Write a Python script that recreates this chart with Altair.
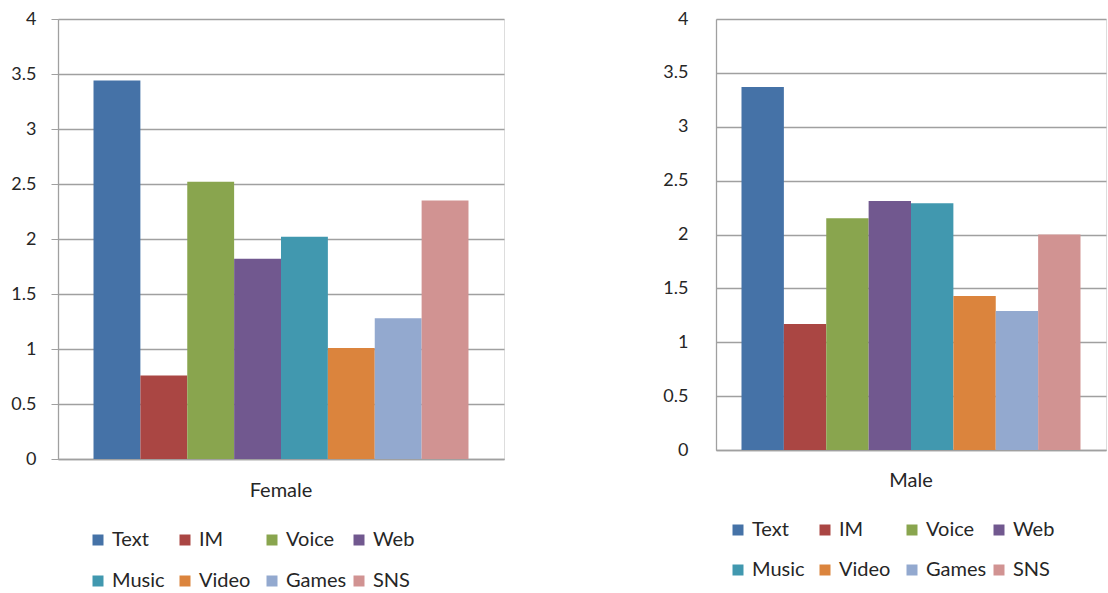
import altair as alt
import pandas as pd

categories = ["Text", "IM", "Voice", "Web", "Music", "Video", "Games", "SNS"]
female_values = [3.44, 0.76, 2.52, 1.82, 2.02, 1.01, 1.28, 2.35]
male_values = [3.37, 1.17, 2.15, 2.31, 2.29, 1.43, 1.29, 2.00]
colors = ["#4572A7", "#AA4643", "#89A54E", "#71588F", "#4198AF", "#DB843D", "#93A9CF", "#D19392"]
y_ticks = [0, 0.5, 1, 1.5, 2, 2.5, 3, 3.5, 4]

FONT = "Lato"
TEXT = "#262626"
GRID = "#a0a0a0"


def panel(label, values, plot_w, plot_h, show_ticks, label_pad, extent, lx, ly,
          outer, x_label_pad, row_pad):
    df = pd.DataFrame({"group": [label] * len(categories),
                       "activity": categories,
                       "value": values})
    return alt.Chart(df).mark_bar().encode(
        x=alt.X("group:N", title=None,
                scale=alt.Scale(paddingInner=0, paddingOuter=outer),
                axis=alt.Axis(labelAngle=0, ticks=False, labelFontSize=20, labelFont=FONT,
                              labelPadding=x_label_pad, labelColor=TEXT, domainColor=GRID,
                              domainWidth=1.5)),
        xOffset=alt.XOffset("activity:N", sort=categories,
                            scale=alt.Scale(paddingInner=0, paddingOuter=0)),
        y=alt.Y("value:Q", title=None,
                scale=alt.Scale(domain=[0, 4], nice=False),
                axis=alt.Axis(values=y_ticks, format="~g", labelFontSize=18, labelFont=FONT,
                              labelColor=TEXT, grid=True, gridColor=GRID, gridWidth=1.3,
                              domainColor=GRID, domainWidth=1.3, ticks=show_ticks,
                              tickSize=7, tickColor=GRID, labelPadding=label_pad,
                              minExtent=extent, maxExtent=extent)),
        color=alt.Color("activity:N", sort=categories,
                        scale=alt.Scale(domain=categories, range=colors),
                        legend=alt.Legend(title=None, orient="none", legendX=lx, legendY=ly,
                                          direction="horizontal", columns=4, gridAlign="all",
                                          symbolType="square", padding=0,
                                          symbolSize=121, symbolStrokeWidth=0,
                                          labelFontSize=20, labelFont=FONT, labelColor=TEXT,
                                          labelOffset=4, columnPadding=2, rowPadding=row_pad)),
    ).properties(width=plot_w, height=plot_h)


left = panel("Female", female_values, 446, 440, True, 15, 57, 30, 511, 0.0947, 21, 21)
right = panel("Male", male_values, 390, 431, False, 28, 60, 12, 501, 0.0752, 20, 20)

chart = alt.hconcat(left, right, spacing=150).resolve_scale(
    color="independent", y="independent", x="independent", xOffset="independent"
).resolve_legend(color="independent").properties(
    padding={"left": 0, "top": 9, "right": 0, "bottom": 0}
).configure_view(stroke=None).configure(background="white")

chart.save("out.html", embed_options={"renderer": "svg", "actions": False})
